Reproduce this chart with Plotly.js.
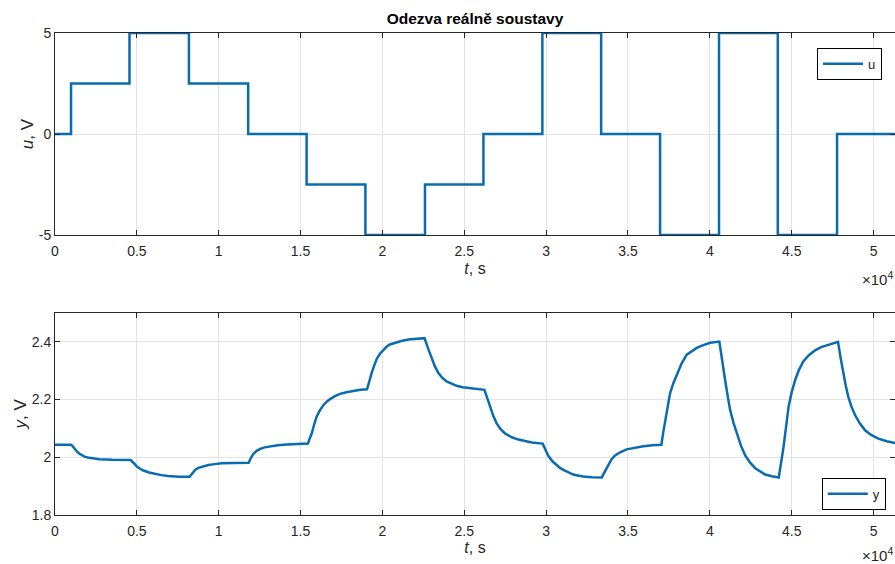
<!DOCTYPE html>
<html>
<head>
<meta charset="utf-8">
<script src="https://cdn.plot.ly/plotly-3.0.1.min.js"></script>
<style>html,body{margin:0;padding:0;background:#fff;}#chart{width:895px;height:564px;}</style>
</head>
<body>
<div id="chart"></div>
<script>
// input u: step changes (time in s, value in V), drawn with 'hv' shape
const uTime = [0, 980, 4550, 8180, 11800, 15370, 18960, 22600, 26170, 29770, 33360, 36960, 40560, 44150, 47770, 51310];
const uValue = [0, 2.5, 5, 2.5, 0, -2.5, -5, -2.5, 0, 5, 0, -5, 5, -5, 0, 0];

// output y (time in s, value in V)
const yTime = [0, 980, 1050, 1200, 1350, 1500, 1650, 1800, 2000, 2200, 2700, 3500, 4620,
  4800, 5000, 5200, 5400, 5750, 6100, 6500, 6900, 7600, 8220,
  8400, 8570, 8760, 9050, 9370, 9750, 10180, 11000, 11830,
  11970, 12120, 12320, 12530, 12800, 13140, 13600, 14160, 14800, 15450,
  15560, 15680, 15830, 15980, 16180, 16390, 16600, 16800, 17100, 17410, 17800, 18230, 18650, 19060,
  19200, 19340, 19500, 19650, 19850, 20050, 20250, 20460, 20770, 21150, 21580, 22100, 22570,
  22800, 23010, 23200, 23420, 23650, 23920, 24200, 24530, 24900, 25250, 25700, 26230,
  26400, 26570, 26770, 26980, 27220, 27490, 27900, 28310, 28700, 29120, 29790,
  29950, 30130, 30400, 30640, 30850, 31050, 31350, 31660, 32000, 32270, 32800, 33400,
  33600, 33800, 34000, 34210, 34550, 34920, 35400, 35940, 36500, 37040,
  37150, 37270, 37420, 37570, 37770, 37980, 38280, 38590, 38900, 39200, 39600, 40020, 40580,
  40750, 40930, 41080, 41240, 41450, 41650, 41900, 42160, 42450, 42770, 43100, 43380, 43800, 44210,
  44500, 44650, 44810, 45000, 45220, 45450, 45720, 46050, 46430, 46800, 47250, 47830,
  48000, 48150, 48300, 48460, 48650, 48870, 49150, 49480, 49850, 50290, 50800, 51310];
const yValue = [2.043, 2.043, 2.040, 2.029, 2.019, 2.012, 2.006, 2.002, 1.999, 1.997, 1.993, 1.991, 1.990,
  1.980, 1.968, 1.960, 1.954, 1.947, 1.942, 1.938, 1.935, 1.932, 1.932,
  1.947, 1.957, 1.963, 1.969, 1.973, 1.976, 1.979, 1.980, 1.981,
  1.998, 2.012, 2.022, 2.029, 2.034, 2.038, 2.041, 2.044, 2.046, 2.047,
  2.065, 2.082, 2.113, 2.140, 2.162, 2.180, 2.192, 2.201, 2.211, 2.219, 2.225, 2.230, 2.233, 2.235,
  2.265, 2.291, 2.318, 2.340, 2.358, 2.372, 2.382, 2.390, 2.396, 2.402, 2.407, 2.410, 2.412,
  2.375, 2.343, 2.315, 2.291, 2.275, 2.262, 2.254, 2.247, 2.242, 2.239, 2.236, 2.233,
  2.205, 2.175, 2.143, 2.117, 2.097, 2.082, 2.069, 2.061, 2.055, 2.051, 2.047,
  2.025, 2.005, 1.985, 1.972, 1.963, 1.956, 1.947, 1.940, 1.936, 1.933, 1.931, 1.930,
  1.952, 1.975, 1.993, 2.006, 2.018, 2.027, 2.033, 2.038, 2.041, 2.043,
  2.085, 2.128, 2.178, 2.221, 2.256, 2.285, 2.325, 2.355, 2.368, 2.378, 2.388, 2.396, 2.400,
  2.330, 2.268, 2.215, 2.163, 2.118, 2.082, 2.040, 2.006, 1.982, 1.962, 1.950, 1.940, 1.934, 1.930,
  2.035, 2.110, 2.175, 2.225, 2.268, 2.303, 2.332, 2.353, 2.370, 2.381, 2.390, 2.399,
  2.340, 2.291, 2.248, 2.209, 2.175, 2.146, 2.118, 2.093, 2.077, 2.064, 2.055, 2.049];

const xTickVals = [0, 5000, 10000, 15000, 20000, 25000, 30000, 35000, 40000, 45000, 50000];
const xTickText = ['0', '0.5', '1', '1.5', '2', '2.5', '3', '3.5', '4', '4.5', '5'];
const uTickVals = [-5, 0, 5];
const uTickText = ['-5', '0', '5'];
const yTickVals = [1.8, 2.0, 2.2, 2.4];
const yTickText = ['1.8', '2', '2.2', '2.4'];

const FONT = 'Liberation Sans, Arial, sans-serif';
const AX = '#262626';
const GRID = '#e3e3e3';
const BLUE = '#0a6cb0';

const commonX = {
  range: [0, 51310], tickmode: 'array', tickvals: xTickVals, ticktext: xTickText,
  ticks: 'inside', ticklen: 5, tickcolor: AX, showline: true, linecolor: AX, linewidth: 1,
  mirror: 'ticks', showgrid: true, gridcolor: GRID, zeroline: false, ticklabelstandoff: 3,
  tickfont: {family: FONT, size: 14, color: AX},
  title: {text: '<i>t</i>, s', font: {family: FONT, size: 16, color: AX}, standoff: 4}
};

const traces = [
  {x: uTime, y: uValue, type: 'scatter', mode: 'lines', line: {shape: 'hv', color: BLUE, width: 2.5},
   name: 'u', xaxis: 'x', yaxis: 'y', legend: 'legend', showlegend: true},
  {x: yTime, y: yValue, type: 'scatter', mode: 'lines', line: {color: BLUE, width: 2.5},
   name: 'y', xaxis: 'x2', yaxis: 'y2', legend: 'legend2', showlegend: true}
];

const layout = {
  width: 895, height: 564,
  margin: {l: 55, r: 0, t: 33, b: 49},
  showlegend: true,
  paper_bgcolor: '#ffffff', plot_bgcolor: '#ffffff',
  font: {family: FONT, color: AX},
  title: {text: '<b>Odezva reálně soustavy</b>', font: {family: FONT, size: 15.5, color: '#000'},
          x: 0.5, xref: 'paper', y: 1 - 19/564, yref: 'container', yanchor: 'middle'},
  xaxis: Object.assign({}, commonX, {anchor: 'y', domain: [0, 1]}),
  yaxis: {domain: [0.5809, 1], range: [-5, 5], tickmode: 'array', tickvals: uTickVals, ticktext: uTickText,
    ticks: 'inside', ticklen: 5, tickcolor: AX, showline: true, linecolor: AX, mirror: 'ticks',
    showgrid: true, gridcolor: GRID, zeroline: false, anchor: 'x',
    tickfont: {family: FONT, size: 14, color: AX},
    title: {text: '<i>u</i>, V', font: {family: FONT, size: 17, color: AX}, standoff: 0}},
  xaxis2: Object.assign({}, commonX, {anchor: 'y2', domain: [0, 1]}),
  yaxis2: {domain: [0, 0.4197], range: [1.8, 2.5], tickmode: 'array', tickvals: yTickVals, ticktext: yTickText,
    ticks: 'inside', ticklen: 5, tickcolor: AX, showline: true, linecolor: AX, mirror: 'ticks',
    showgrid: true, gridcolor: GRID, zeroline: false, anchor: 'x2',
    tickfont: {family: FONT, size: 14, color: AX},
    title: {text: '<i>y</i>, V', font: {family: FONT, size: 17, color: AX}, standoff: 0}},
  legend: {x: 0.9845, y: 0.9695, xanchor: 'right', yanchor: 'top', bgcolor: '#fff', itemwidth: 40,
    bordercolor: '#000', borderwidth: 1, font: {family: FONT, size: 13, color: AX},
    tracegroupgap: 0},
  legend2: {x: 0.989, y: 0.0774, xanchor: 'right', yanchor: 'top', bgcolor: '#fff', itemwidth: 40,
    bordercolor: '#000', borderwidth: 1, font: {family: FONT, size: 13, color: AX},
    tracegroupgap: 0},
  annotations: [
    {text: '×10<sup>4</sup>', xref: 'paper', yref: 'paper', x: 1, y: 0.4917, xanchor: 'right', yanchor: 'middle',
     showarrow: false, font: {family: FONT, size: 15, color: AX}},
    {text: '×10<sup>4</sup>', xref: 'paper', yref: 'paper', x: 1, y: -0.081, xanchor: 'right', yanchor: 'middle',
     showarrow: false, font: {family: FONT, size: 15, color: AX}}
  ]
};

Plotly.newPlot('chart', traces, layout, {displayModeBar: false, staticPlot: true});
</script>
</body>
</html>
